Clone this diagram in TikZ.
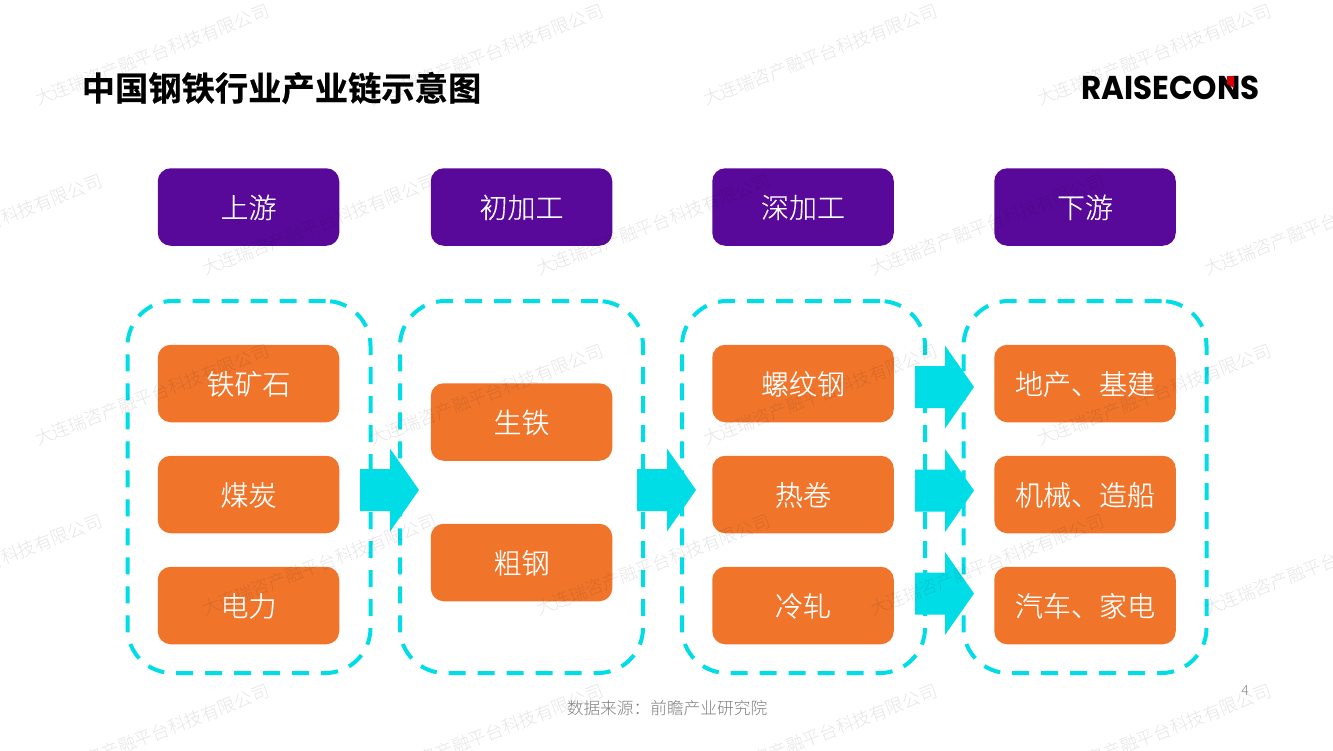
\documentclass[tikz,border=0pt]{standalone}
\usepackage{fontspec}
\setmainfont{Noto Sans CJK SC}
\newfontfamily\cjkl{Noto Sans CJK SC Light}
\newfontfamily\cjkm[FakeBold=0.25]{Noto Sans CJK SC Light}
\newfontfamily\cjkb[FakeBold=0.6]{Noto Sans CJK SC Bold}
\newfontfamily\logofont{Poppins}
\definecolor{purp}{HTML}{58099A}
\definecolor{orng}{HTML}{F0752B}
\definecolor{cyn}{HTML}{00DDE6}
\newcommand{\blockarr}[2]{%
  \fill[cyn,shift={(#1,#2)}] (0,-21) -- (30,-21) -- (30,-41.5) -- (59,0) -- (30,41.5) -- (30,21) -- (0,21) -- cycle;}
\tikzset{
  x=1pt,y=-1pt,
  cell/.style={rounded corners=13pt,minimum width=181.5pt,minimum height=77.5pt,inner sep=0pt,text=white,text height=22pt,text depth=0pt,font=\cjkm\fontsize{28}{28}\selectfont},
  headbox/.style={cell,fill=purp},
  itembox/.style={cell,fill=orng},
  groupbox/.style={draw=cyn,line width=4pt,rounded corners=45pt,dash pattern=on 17pt off 12pt,minimum width=243pt,minimum height=372pt,inner sep=0pt},
  wmark/.style={rotate=21,text=black,opacity=0.1,font=\cjkl\fontsize{17.8}{17.8}\selectfont,inner sep=0pt},
}
\begin{document}
\begin{tikzpicture}
\useasboundingbox (0,0) rectangle (1333,750);
\fill[white] (0,0) rectangle (1333,750);
% dashed groups
\node[groupbox] (g1) at (249,487) {};
\node[groupbox] (g2) at (521.5,487) {};
\node[groupbox] (g3) at (803.5,487) {};
\node[groupbox] (g4) at (1085,487) {};
% block arrows
\blockarr{360}{490}
\blockarr{637}{490}
\blockarr{915}{387}
\blockarr{915}{490.5}
\blockarr{915}{593.5}
% headers
\node[headbox] (h1) at (248.5,207) {上游};
\node[headbox] (h2) at (521.5,207) {初加工};
\node[headbox] (h3) at (803,207) {深加工};
\node[headbox] (h4) at (1085,207) {下游};
% items
\node[itembox] (a1) at (248.5,383.5) {铁矿石};
\node[itembox] (a2) at (248.5,494.5) {煤炭};
\node[itembox] (a3) at (248.5,605.5) {电力};
\node[itembox] (b1) at (521.5,422) {生铁};
\node[itembox] (b2) at (521.5,562.5) {粗钢};
\node[itembox] (c1) at (803,383.5) {螺纹钢};
\node[itembox] (c2) at (803,494.5) {热卷};
\node[itembox] (c3) at (803,605.5) {冷轧};
\node[itembox] (d1) at (1085,383.5) {地产、基建};
\node[itembox] (d2) at (1085,494.5) {机械、造船};
\node[itembox] (d3) at (1085,605.5) {汽车、家电};
% watermark
\foreach \wx in {152,486,820,1154} {
  \node[wmark] at (\wx,55) {大连瑞咨产融平台科技有限公司};
  \node[wmark] at (\wx,395) {大连瑞咨产融平台科技有限公司};
  \node[wmark] at (\wx,735) {大连瑞咨产融平台科技有限公司};
}
\foreach \wx in {-15,319,653,987,1321} {
  \node[wmark] at (\wx,225) {大连瑞咨产融平台科技有限公司};
  \node[wmark] at (\wx,565) {大连瑞咨产融平台科技有限公司};
}
% title
\node[anchor=west,inner sep=0pt,font=\cjkb\fontsize{33.3}{33.3}\selectfont] (title) at (81.5,88) {中国钢铁行业产业链示意图};
% source, page number
\node[inner sep=0pt,text=black!50,font=\cjkl\fontsize{16.7}{16.7}\selectfont] (src) at (667,708) {数据来源：前瞻产业研究院};
\node[inner sep=0pt,text=black!45,font=\cjkl\fontsize{14}{14}\selectfont] (pg) at (1245,691) {4};
% logo
\node[anchor=west,inner sep=0pt,font=\logofont\bfseries\fontsize{33}{33}\selectfont,xscale=0.94] (logo) at (1081,87.5) {RAISECONS};
\fill[red!85!black] (1227,76) -- (1234,76) -- (1234,88) -- (1227,84) -- cycle;
\end{tikzpicture}
\end{document}
